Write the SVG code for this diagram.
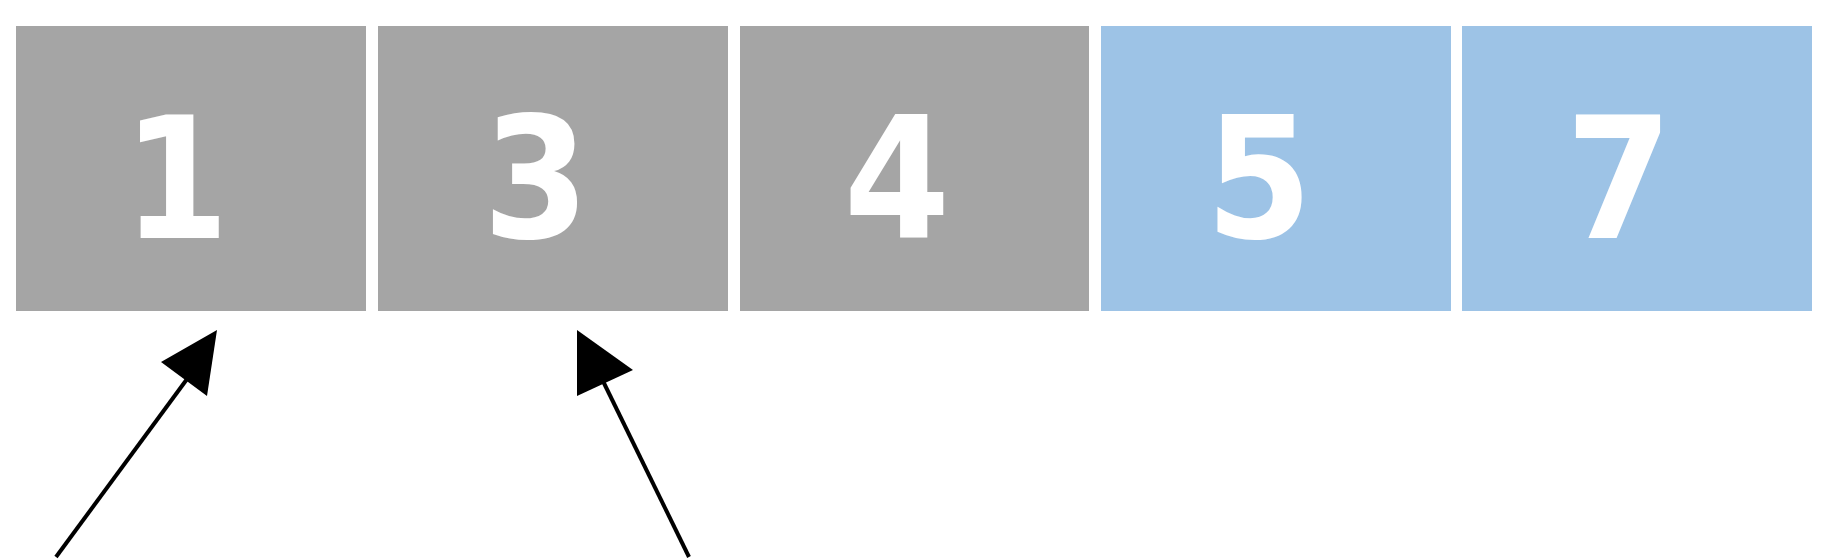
<svg xmlns="http://www.w3.org/2000/svg" width="1839" height="560" viewBox="0 0 1839 560">
<style>
.g{fill:#A5A5A5}
.b{fill:#9DC3E6}
.t{fill:#FFFFFF;font-family:"DejaVu Sans Condensed","DejaVu Sans",sans-serif;font-weight:700;font-size:170px;text-anchor:middle}
.c{stroke:#000;stroke-width:4;fill:none}
</style>
<rect width="1839" height="560" fill="#FFFFFF"/>
<g id="n1"><rect class="g" x="16" y="26" width="350" height="285"/><text class="t" x="176" y="238">1</text></g>
<g id="n2"><rect class="g" x="378" y="26" width="350" height="285"/><text class="t" x="536" y="238">3</text></g>
<g id="n3"><rect class="g" x="740" y="26" width="349" height="285"/><text class="t" x="897" y="238">4</text></g>
<g id="n4"><rect class="b" x="1101" y="26" width="350" height="285"/><text class="t" x="1259" y="238">5</text></g>
<g id="n5"><rect class="b" x="1462" y="26" width="350" height="285"/><text class="t" x="1619" y="238">7</text></g>
<g id="connectors">
<line class="c" x1="56" y1="557" x2="190" y2="375"/>
<polygon points="217,330 161,362 207,396"/>
<line class="c" x1="689" y1="557" x2="600" y2="375"/>
<polygon points="577,330 577,396 633,370"/>
</g>
</svg>
